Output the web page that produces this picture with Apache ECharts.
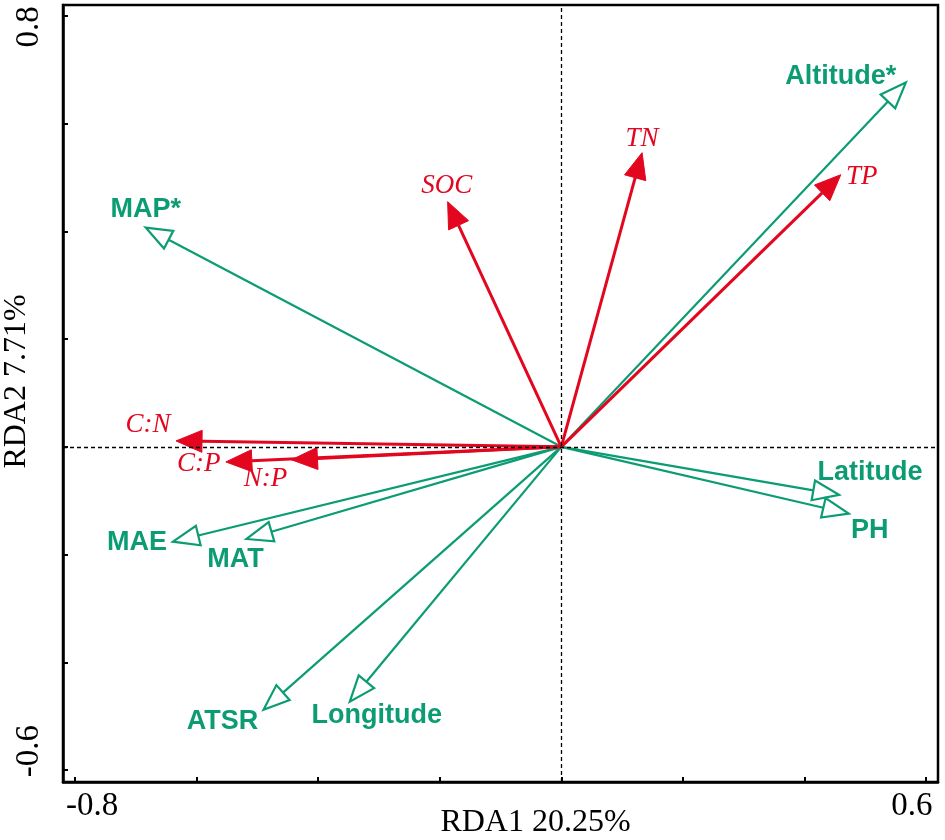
<!DOCTYPE html>
<html>
<head>
<meta charset="utf-8">
<script src="https://cdn.jsdelivr.net/npm/echarts@6/dist/echarts.min.js"></script>
<style>html,body{margin:0;padding:0;background:#fff}#c{width:945px;height:840px}</style>
</head>
<body>
<div id="c"></div>
<script>
// ---- data ----
const envNames = ['Altitude*', 'MAP*', 'Latitude', 'PH', 'MAE', 'MAT', 'ATSR', 'Longitude'];
const envRDA1 = [0.567, -0.684, 0.457, 0.473, -0.639, -0.518, -0.490, -0.348];
const envRDA2 = [0.676, 0.407, -0.089, -0.124, -0.176, -0.171, -0.488, -0.473];

const soilNames = ['TN', 'TP', 'SOC', 'C:N', 'C:P', 'N:P'];
const soilRDA1 = [0.133, 0.460, -0.187, -0.634, -0.552, -0.444];
const soilRDA2 = [0.546, 0.505, 0.455, 0.011, -0.028, -0.024];

const xTicks = [-0.8, -0.6, -0.4, -0.2, 0, 0.2, 0.4, 0.6];
const yTicks = [-0.6, -0.4, -0.2, 0, 0.2, 0.4, 0.6, 0.8];
const xTickLabels = [-0.8, 0.6];
const yTickLabels = [-0.6, 0.8];
const xTitle = 'RDA1 20.25%';
const yTitle = 'RDA2 7.71%';

// ---- layout / style (pixel offsets of labels from arrow tips) ----
const envLabelOffset = [[-65, -6], [0, -18], [31, -22], [21, 17], [-36, 1], [-11, 21], [-41, 12], [27, 14]];
const soilLabelOffset = [[0, -14], [21, 2], [-1, -16], [-28, -16], [-27, 2], [-26, 19]];
const GREEN = '#0c9c74';
const RED = '#e3061f';
const SERIF = 'Liberation Serif';
const SANS = 'Liberation Sans';

function makeRender(names, offsets, hollow, color, lw, font) {
  return function (params, api) {
    const o = api.coord([0, 0]);
    const t = api.coord([api.value(0), api.value(1)]);
    const dx = t[0] - o[0], dy = t[1] - o[1];
    const len = Math.hypot(dx, dy);
    const ux = dx / len, uy = dy / len;
    const L = 26, W = hollow ? 10 : 11;
    const bx = t[0] - ux * L, by = t[1] - uy * L;
    const px = -uy, py = ux;
    const head = [[t[0], t[1]], [bx + px * W, by + py * W], [bx - px * W, by - py * W]];
    const off = offsets[params.dataIndex];
    return {
      type: 'group',
      children: [
        { type: 'line', shape: { x1: o[0], y1: o[1], x2: bx, y2: by },
          style: { stroke: color, lineWidth: lw } },
        { type: 'polygon', shape: { points: head },
          style: { fill: hollow ? '#fff' : color, stroke: color, lineWidth: hollow ? 2.2 : 1, lineJoin: 'miter' } },
        { type: 'text', x: t[0] + off[0], y: t[1] + off[1],
          style: Object.assign({ text: names[params.dataIndex], fill: color, align: 'center', verticalAlign: 'middle' }, font) }
      ]
    };
  };
}

const chart = echarts.init(document.getElementById('c'), null, { renderer: 'canvas' });
const tickFont = { fontFamily: SERIF, fontSize: 33, color: '#000' };

chart.setOption({
  animation: false,
  backgroundColor: '#fff',
  grid: { left: 63, right: 7, top: 5, bottom: 58, show: true, borderColor: '#000', borderWidth: 2.5,
          containLabel: false, outerBoundsMode: 'none' },
  xAxis: {
    type: 'value', min: -0.82, max: 0.62,
    axisLine: { show: true, onZero: false, lineStyle: { color: '#000', width: 2.5 } },
    axisTick: { show: true, inside: true, length: 5, customValues: xTicks, lineStyle: { color: '#000', width: 2 } },
    axisLabel: {
      customValues: xTickLabels, margin: 8,
      formatter: v => (v < 0 ? '{l|' : '{r|') + v.toFixed(1) + '}',
      rich: {
        l: Object.assign({ padding: [0, 0, 0, 34] }, tickFont),
        r: Object.assign({ padding: [0, 28, 0, 0] }, tickFont)
      }
    },
    splitLine: { show: false },
    name: xTitle, nameLocation: 'middle', nameGap: 25, nameMoveOverlap: false,
    nameTextStyle: { fontFamily: SERIF, fontSize: 32, color: '#000', padding: [0, 0, 0, 70] }
  },
  yAxis: {
    type: 'value', min: -0.622, max: 0.82,
    axisLine: { show: true, onZero: false, lineStyle: { color: '#000', width: 2.5 } },
    axisTick: { show: true, inside: true, length: 5, customValues: yTicks, lineStyle: { color: '#000', width: 2 } },
    axisLabel: {
      customValues: yTickLabels, margin: 17, rotate: 90,
      formatter: v => (v < 0 ? '{l|' : '{r|') + v.toFixed(1) + '}',
      rich: {
        l: Object.assign({ padding: [0, 0, 0, 38] }, tickFont),
        r: Object.assign({ padding: [0, 22, 0, 0] }, tickFont)
      }
    },
    splitLine: { show: false },
    name: yTitle, nameLocation: 'middle', nameGap: 30, nameRotate: 90, nameMoveOverlap: false,
    nameTextStyle: { fontFamily: SERIF, fontSize: 32, color: '#000', padding: [0, 0, 0, 24] }
  },
  series: [
    {
      type: 'line', data: [], silent: true,
      markLine: {
        silent: true, symbol: ['none', 'none'], label: { show: false },
        lineStyle: { color: '#000', type: [4, 3], width: 1.3 },
        data: [{ xAxis: 0 }, { yAxis: 0 }]
      }
    },
    {
      type: 'custom', silent: true,
      data: envRDA1.map((x, i) => [x, envRDA2[i]]),
      encode: { x: 0, y: 1 },
      renderItem: makeRender(envNames, envLabelOffset, true, GREEN, 2.2,
        { fontFamily: SANS, fontWeight: 'bold', fontSize: 27 })
    },
    {
      type: 'custom', silent: true,
      data: soilRDA1.map((x, i) => [x, soilRDA2[i]]),
      encode: { x: 0, y: 1 },
      renderItem: makeRender(soilNames, soilLabelOffset, false, RED, 3,
        { fontFamily: SERIF, fontStyle: 'italic', fontSize: 27 })
    }
  ]
});
</script>
</body>
</html>
